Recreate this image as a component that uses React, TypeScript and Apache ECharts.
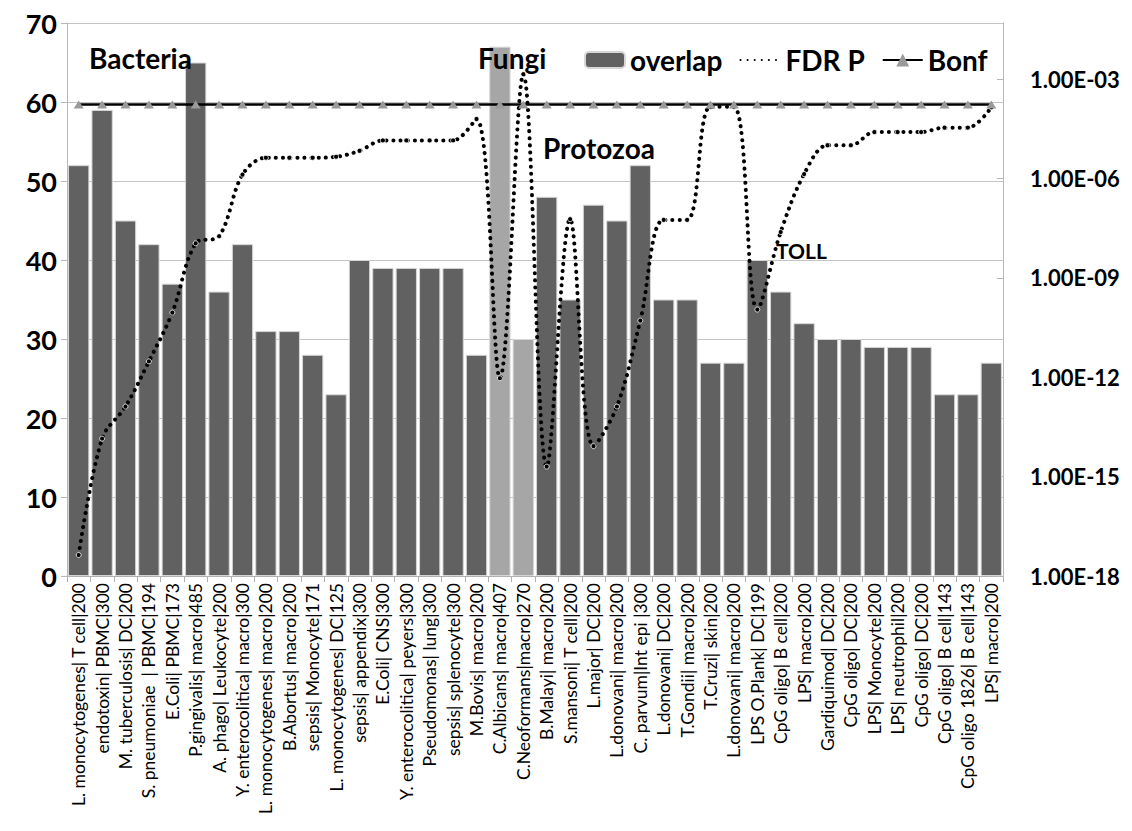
import React, { useEffect, useRef } from "react";
import * as echarts from "echarts";

const categories = [
  "L. monocytogenes| T cell|200",
  "endotoxin| PBMC|300",
  "M. tuberculosis| DC|200",
  "S. pneumoniae  | PBMC|194",
  "E.Coli| PBMC|173",
  "P.gingivalis| macro|485",
  "A. phago| Leukocyte|200",
  "Y. enterocolitica| macro|300",
  "L. monocytogenes| macro|200",
  "B.Abortus| macro|200",
  "sepsis| Monocyte|171",
  "L. monocytogenes| DC|125",
  "sepsis| appendix|300",
  "E.Coli| CNS|300",
  "Y. enterocolitica| peyers|300",
  "Pseudomonas| lung|300",
  "sepsis| splenocyte|300",
  "M.Bovis| macro|200",
  "C.Albicans| macro|407",
  "C.Neoformans|macro|270",
  "B.Malayi| macro|200",
  "S.mansoni| T cell|200",
  "L.major| DC|200",
  "L.donovani| macro|200",
  "C. parvum|Int epi |300",
  "L.donovani| DC|200",
  "T.Gondii| macro|200",
  "T.Cruzi| skin|200",
  "L.donovani| macro|200",
  "LPS O.Plank| DC|199",
  "CpG oligo| B cell|200",
  "LPS| macro|200",
  "Gardiquimod| DC|200",
  "CpG oligo| DC|200",
  "LPS| Monocyte|200",
  "LPS| neutrophil|200",
  "CpG oligo| DC|200",
  "CpG oligo| B cell|143",
  "CpG oligo 1826| B cell|143",
  "LPS| macro|200",
];

const overlap = [
  52, 59, 45, 42, 37, 65, 36, 42, 31, 31, 28, 23, 40, 39, 39, 39, 39, 28, 67, 30,
  48, 35, 47, 45, 52, 35, 35, 27, 27, 40, 36, 32, 30, 30, 29, 29, 29, 23, 23, 27,
];

// categories drawn in the lighter grey (fungi)
const fungiCategories = ["C.Albicans| macro|407", "C.Neoformans|macro|270"];

const fdrP = [
  4.3e-18, 1.4e-14, 1.3e-13, 3.0e-12, 8.9e-11, 1.1e-8, 1.8e-8, 1.3e-6, 4.2e-6, 4.2e-6,
  4.2e-6, 4.5e-6, 6.8e-6, 1.4e-5, 1.4e-5, 1.4e-5, 1.4e-5, 6.2e-5, 9.3e-13, 1.4e-3,
  2.0e-15, 5.9e-8, 8.3e-15, 1.3e-13, 5.1e-11, 5.6e-8, 5.6e-8, 1.45e-4, 1.45e-4, 1.1e-10,
  2.4e-8, 1.35e-6, 1.0e-5, 1.0e-5, 2.5e-5, 2.5e-5, 2.5e-5, 3.4e-5, 3.4e-5, 1.4e-4,
];

const bonf = [
  1.7e-4, 1.7e-4, 1.7e-4, 1.7e-4, 1.7e-4, 1.7e-4, 1.7e-4, 1.7e-4, 1.7e-4, 1.7e-4,
  1.7e-4, 1.7e-4, 1.7e-4, 1.7e-4, 1.7e-4, 1.7e-4, 1.7e-4, 1.7e-4, 1.7e-4, 1.7e-4,
  1.7e-4, 1.7e-4, 1.7e-4, 1.7e-4, 1.7e-4, 1.7e-4, 1.7e-4, 1.7e-4, 1.7e-4, 1.7e-4,
  1.7e-4, 1.7e-4, 1.7e-4, 1.7e-4, 1.7e-4, 1.7e-4, 1.7e-4, 1.7e-4, 1.7e-4, 1.7e-4,
];

const groupLabels = ["Bacteria", "Fungi", "Protozoa", "TOLL"];

const FONT = "Lato";

export default function App() {
  const ref = useRef<HTMLDivElement>(null);

  useEffect(() => {
    if (!ref.current) return;
    const chart = echarts.init(ref.current, null, { renderer: "svg" });

    const barData = overlap.map((v, i) =>
      fungiCategories.includes(categories[i])
        ? { value: v, itemStyle: { color: "#a6a6a6" } }
        : v
    );

    const fmtExp = (v: number) => {
      const e = Math.round(Math.log10(v));
      const s = String(Math.abs(e)).padStart(2, "0");
      return "1.00E" + (e < 0 ? "-" : "+") + s;
    };

    const bigText = (text: string, x: number, y: number, size: number) => ({
      type: "text",
      x,
      y,
      z: 10,
      style: {
        text,
        fontSize: size,
        fontWeight: "bold",
        fontFamily: FONT,
        fill: "#000",
        verticalAlign: "middle",
      },
    });

    const option: any = {
      animation: false,
      backgroundColor: "#ffffff",
      textStyle: { fontFamily: FONT },
      grid: { left: 67, right: 129, top: 23, bottom: 255, containLabel: false },
      legend: {
        top: 46,
        left: 584,
        itemWidth: 40,
        itemHeight: 16,
        itemGap: 17,
        padding: 0,
        textStyle: { fontSize: 28, fontWeight: "bold", color: "#000", fontFamily: FONT },
        data: [
          { name: "overlap" },
          { name: "FDR P", itemStyle: { opacity: 0 } },
          { name: "Bonf" },
        ],
      },
      xAxis: {
        type: "category",
        data: categories,
        axisLine: { lineStyle: { color: "#b0b0b0", width: 1 } },
        axisTick: { show: true, length: 6, lineStyle: { color: "#b0b0b0" } },
        axisLabel: {
          interval: 0,
          rotate: 90,
          fontSize: 17.5,
          color: "#000",
          margin: 7,
          fontFamily: FONT,
        },
        splitLine: { show: false },
      },
      yAxis: [
        {
          type: "value",
          min: 0,
          max: 70,
          interval: 10,
          position: "left",
          axisLine: { show: true, lineStyle: { color: "#b8b8b8" } },
          axisTick: { show: true, length: 6, lineStyle: { color: "#b8b8b8" } },
          splitLine: { show: true, lineStyle: { color: "#c4c4c4", width: 1 } },
          axisLabel: {
            fontSize: 27,
            fontWeight: "bold",
            color: "#000",
            margin: 10,
            fontFamily: FONT,
          },
        },
        {
          type: "log",
          logBase: 10,
          min: 1e-18,
          max: 0.049,
          interval: 3,
          position: "right",
          axisLine: { show: true, lineStyle: { color: "#b8b8b8" } },
          axisTick: { show: true, inside: true, length: 6, lineStyle: { color: "#b8b8b8" } },
          splitLine: { show: false },
          minorTick: { show: false },
          axisLabel: {
            fontSize: 22,
            fontWeight: "bold",
            color: "#000",
            margin: 27,
            showMaxLabel: false,
            fontFamily: FONT,
            formatter: fmtExp,
          },
        },
      ],
      series: [
        {
          name: "overlap",
          type: "bar",
          data: barData,
          barCategoryGap: "9%",
          itemStyle: { color: "#616161", borderColor: "#d6d6d6", borderWidth: 1 },
          z: 2,
        },
        {
          name: "FDR P",
          type: "line",
          yAxisIndex: 1,
          data: fdrP,
          smooth: 0.35,
          symbol: "circle",
          symbolSize: 5,
          itemStyle: { color: "#000", borderColor: "#ffffff", borderWidth: 0.8 },
          lineStyle: { color: "#000", width: 4, type: [0.1, 7], cap: "round" },
          z: 3,
        },
        {
          name: "Bonf",
          type: "line",
          yAxisIndex: 1,
          data: bonf,
          symbol: "triangle",
          symbolSize: [10, 8],
          itemStyle: { color: "#9a9a9a" },
          lineStyle: { color: "#000", width: 2.5 },
          z: 4,
        },
      ],
      graphic: [
        bigText(groupLabels[0], 89, 58, 28),
        bigText(groupLabels[1], 478, 58, 28),
        bigText(groupLabels[2], 543, 148, 28),
        bigText(groupLabels[3], 776, 250, 21),
      ],
    };

    chart.setOption(option);
    return () => chart.dispose();
  }, []);

  return (
    <div
      ref={ref}
      style={{ position: "fixed", left: 0, top: 0, width: 1132, height: 831, background: "#fff" }}
    />
  );
}
